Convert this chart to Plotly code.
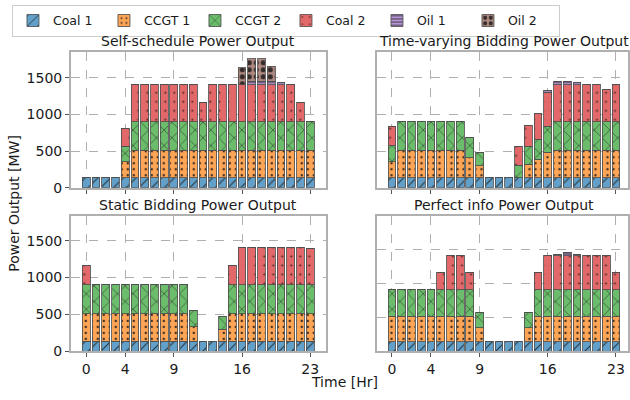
import plotly.graph_objects as go

# ---------------- data ----------------
hours = list(range(24))
tick_vals = [0, 4, 9, 16, 23]
tick_text = ["0", "4", "9", "16", "23"]
y_ticks = [0, 500, 1000, 1500]

units = ["Coal 1", "CCGT 1", "CCGT 2", "Coal 2", "Oil 1", "Oil 2"]

# Self-schedule
ss_coal1 = [135, 135, 135, 135, 135, 135, 135, 135, 135, 135, 135, 135, 135, 135, 135, 135, 135, 135, 135, 135, 135, 135, 135, 135]
ss_ccgt1 = [0, 0, 0, 0, 221, 375, 375, 375, 375, 375, 375, 375, 375, 375, 375, 375, 375, 375, 375, 375, 375, 375, 375, 375]
ss_ccgt2 = [0, 0, 0, 0, 209, 390, 390, 390, 390, 390, 390, 390, 390, 390, 390, 390, 390, 390, 390, 390, 390, 390, 390, 390]
ss_coal2 = [0, 0, 0, 0, 248, 500, 500, 500, 500, 500, 500, 500, 256, 500, 500, 500, 500, 500, 500, 500, 500, 500, 256, 0]
ss_oil1 = [0, 0, 0, 0, 0, 0, 0, 0, 0, 0, 0, 0, 0, 0, 0, 0, 0, 50, 50, 50, 30, 0, 0, 0]
ss_oil2 = [0, 0, 0, 0, 0, 0, 0, 0, 0, 0, 0, 0, 0, 0, 0, 0, 232, 304, 304, 201, 0, 0, 0, 0]

# Time-varying bidding
tv_coal1 = [135, 135, 135, 135, 135, 135, 135, 135, 135, 135, 135, 135, 135, 135, 135, 135, 135, 135, 135, 135, 135, 135, 135, 135]
tv_ccgt1 = [221, 375, 375, 375, 375, 375, 375, 375, 274, 163, 0, 0, 0, 0, 189, 256, 349, 375, 375, 375, 375, 375, 375, 375]
tv_ccgt2 = [217, 390, 390, 390, 390, 390, 390, 390, 280, 178, 0, 0, 0, 176, 245, 271, 356, 390, 390, 390, 390, 390, 390, 390]
tv_coal2 = [263, 0, 0, 0, 0, 0, 0, 0, 0, 0, 0, 0, 0, 258, 280, 347, 462, 500, 500, 500, 500, 500, 442, 500]
tv_oil1 = [0, 0, 0, 0, 0, 0, 0, 0, 0, 0, 0, 0, 0, 0, 0, 0, 27, 49, 49, 27, 0, 0, 0, 0]
tv_oil2 = [0, 0, 0, 0, 0, 0, 0, 0, 0, 0, 0, 0, 0, 0, 0, 0, 0, 0, 0, 0, 0, 0, 0, 0]

# Static bidding
st_coal1 = [135, 135, 135, 135, 135, 135, 135, 135, 135, 135, 135, 135, 135, 135, 135, 135, 135, 135, 135, 135, 135, 135, 135, 135]
st_ccgt1 = [375, 375, 375, 375, 375, 375, 375, 375, 375, 375, 375, 198, 0, 0, 163, 375, 375, 375, 375, 375, 375, 375, 375, 375]
st_ccgt2 = [390, 390, 390, 390, 390, 390, 390, 390, 390, 390, 390, 214, 0, 0, 178, 390, 390, 390, 390, 390, 390, 390, 390, 390]
st_coal2 = [264, 0, 0, 0, 0, 0, 0, 0, 0, 0, 0, 0, 0, 0, 0, 264, 505, 505, 505, 505, 505, 505, 505, 495]
st_oil1 = [0, 0, 0, 0, 0, 0, 0, 0, 0, 0, 0, 0, 0, 0, 0, 0, 0, 0, 0, 0, 0, 0, 0, 0]
st_oil2 = [0, 0, 0, 0, 0, 0, 0, 0, 0, 0, 0, 0, 0, 0, 0, 0, 0, 0, 0, 0, 0, 0, 0, 0]

# Perfect info
pi_coal1 = [135, 135, 135, 135, 135, 135, 135, 135, 135, 135, 135, 135, 135, 135, 135, 135, 135, 135, 135, 135, 135, 135, 135, 135]
pi_ccgt1 = [375, 375, 375, 375, 375, 375, 375, 375, 375, 210, 0, 0, 0, 0, 210, 375, 375, 375, 375, 375, 375, 375, 375, 375]
pi_ccgt2 = [390, 390, 390, 390, 390, 390, 390, 390, 390, 220, 0, 0, 0, 0, 220, 390, 390, 390, 390, 390, 390, 390, 390, 390]
pi_coal2 = [0, 0, 0, 0, 0, 250, 500, 500, 250, 0, 0, 0, 0, 0, 0, 250, 500, 500, 500, 500, 500, 500, 500, 250]
pi_oil1 = [0, 0, 0, 0, 0, 0, 0, 0, 0, 0, 0, 0, 0, 0, 0, 0, 0, 25, 50, 25, 0, 0, 0, 0]
pi_oil2 = [0, 0, 0, 0, 0, 0, 0, 0, 0, 0, 0, 0, 0, 0, 0, 0, 0, 0, 0, 0, 0, 0, 0, 0]

titles = ["Self-schedule Power Output", "Time-varying Bidding Power Output",
          "Static Bidding Power Output", "Perfect info Power Output"]
panel_data = [
    [ss_coal1, ss_ccgt1, ss_ccgt2, ss_coal2, ss_oil1, ss_oil2],
    [tv_coal1, tv_ccgt1, tv_ccgt2, tv_coal2, tv_oil1, tv_oil2],
    [st_coal1, st_ccgt1, st_ccgt2, st_coal2, st_oil1, st_oil2],
    [pi_coal1, pi_ccgt1, pi_ccgt2, pi_coal2, pi_oil1, pi_oil2],
]

# ---------------- style ----------------
colors = ["#62a0ca", "#ffa556", "#6bbc6b", "#e26869", "#b495d1", "#af8981"]
pat_shapes = ["/", ".", "x", ".", "-", "."]
pat_sizes = [9, 6, 11, 9, 4, 7]
pat_solid = [0.12, 0.14, 0.1, 0.035, 0.25, 0.42]

W, H = 630, 400
FONT = "DejaVu Sans"
# panel pixel boxes: (left, right, top, bottom)
boxes = [(71, 326.7, 53.3, 191.7), (377.7, 630, 53.3, 191.7),
         (71, 326.7, 220.3, 358.3), (377.7, 630, 220.3, 358.3)]
px_per_hr = (326.7 - 71) / 26.18
x_ranges = [[-1.59, 24.59], [-1.59, -1.59 + (630 - 377.7) / px_per_hr],
            [-1.59, 24.59], [-1.59, -1.59 + (630 - 377.7) / px_per_hr]]
y_ranges = [[0, 1845], [0, 1845], [0, 1838], [0, 1990]]

fig = go.Figure()
for p in range(4):
    ax = "" if p == 0 else str(p + 1)
    for k, name in enumerate(units):
        fig.add_trace(go.Bar(
            x=hours, y=panel_data[p][k], name=name, legendgroup=name,
            showlegend=(p == 0), width=0.8,
            xaxis="x" + ax, yaxis="y" + ax,
            marker=dict(color=colors[k],
                        line=dict(color="rgba(80,80,80,0.85)", width=1),
                        pattern=dict(shape=pat_shapes[k], size=pat_sizes[k],
                                     solidity=pat_solid[k],
                                     fgcolor="rgba(20,20,20,0.8)",
                                     bgcolor=colors[k], fillmode="replace")),
            hovertemplate=name + ": %{y}<extra></extra>",
        ))

layout = dict(width=W, height=H, margin=dict(l=0, r=0, t=0, b=0),
              paper_bgcolor="white", plot_bgcolor="white", barmode="stack",
              bargap=0.2, font=dict(family=FONT, size=14, color="#1a1a1a"),
              showlegend=True,
              legend=dict(orientation="h", x=12 / W, y=1 - 5 / H,
                          xanchor="left", yanchor="top",
                          bordercolor="#cccccc", borderwidth=1,
                          entrywidth=46, entrywidthmode="pixels",
                          font=dict(family=FONT, size=12.5, color="#1a1a1a"),
                          itemwidth=30, traceorder="normal"))

ann = []
for p in range(4):
    ax = "" if p == 0 else str(p + 1)
    l, r, t, b = boxes[p]
    bottom_row = p >= 2
    left_col = p % 2 == 0
    layout["xaxis" + ax] = dict(
        domain=[l / W, r / W], anchor="y" + ax, range=x_ranges[p],
        tickmode="array", tickvals=tick_vals, ticktext=tick_text,
        showticklabels=bottom_row, ticks="outside", ticklen=4,
        tickcolor="#555555", showgrid=True, gridcolor="#b0b0b0",
        griddash="dash", gridwidth=1, showline=True, mirror=True,
        linecolor="#b0b0b0", linewidth=1.5, zeroline=False,
        tickfont=dict(size=14))
    layout["yaxis" + ax] = dict(
        domain=[1 - b / H, 1 - t / H], anchor="x" + ax, range=y_ranges[p],
        tickmode="array", tickvals=y_ticks, showticklabels=left_col,
        ticks="outside" if left_col else "", ticklen=4, tickcolor="#555555",
        showgrid=True, gridcolor="#b0b0b0", griddash="dash", gridwidth=1,
        showline=True, mirror=True, linecolor="#b0b0b0", linewidth=1.5,
        zeroline=False, tickfont=dict(size=14))
    cx = (l + (r if p % 2 == 0 else 633)) / 2
    ann.append(dict(text=titles[p], x=cx / W, y=1 - (t - 11) / H,
                    xref="paper", yref="paper", showarrow=False,
                    xanchor="center", yanchor="middle",
                    font=dict(family=FONT, size=14, color="#1a1a1a")))

ann.append(dict(text="Power Output [MW]", x=14 / W, y=1 - 207 / H,
                xref="paper", yref="paper", showarrow=False, textangle=-90,
                xanchor="center", yanchor="middle",
                font=dict(family=FONT, size=14, color="#1a1a1a")))
ann.append(dict(text="Time [Hr]", x=346 / W, y=1 - 390 / H,
                xref="paper", yref="paper", showarrow=False,
                xanchor="center", yanchor="middle",
                font=dict(family=FONT, size=14, color="#1a1a1a")))
layout["annotations"] = ann

fig.update_layout(**layout)
fig.write_html("out.html")
